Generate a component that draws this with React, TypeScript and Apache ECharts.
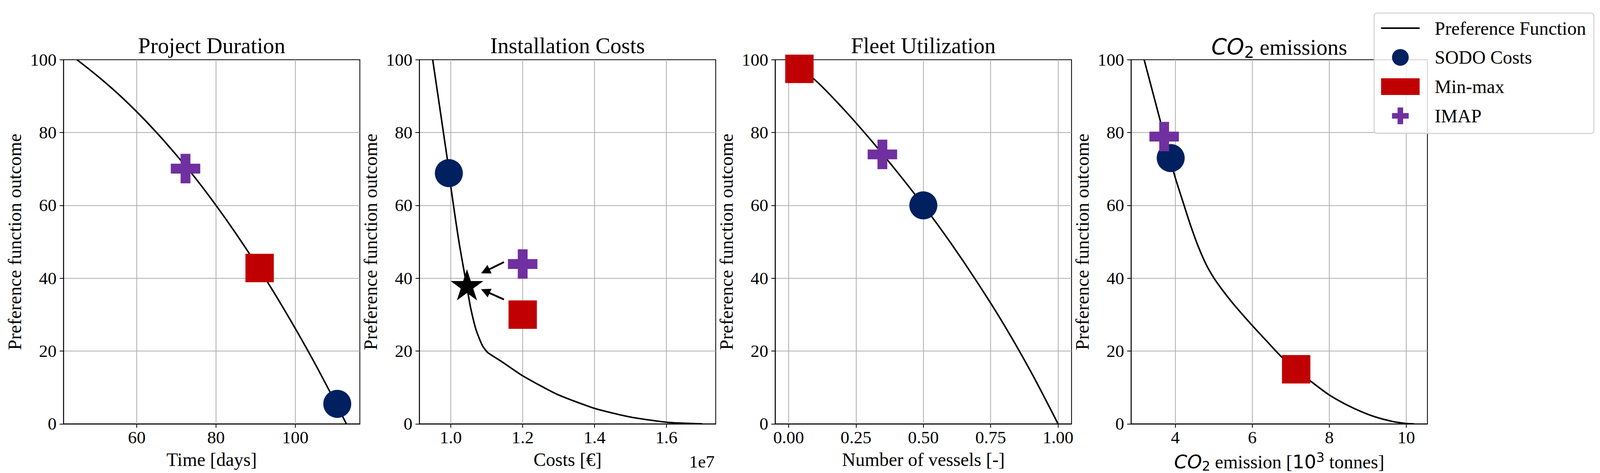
import React, { useEffect, useRef } from 'react';
import * as echarts from 'echarts';

// ---------- data ----------
// Project Duration
const durationCurveX = [44.9, 50, 55, 60, 65, 70, 75, 80, 85, 90, 95, 100, 105, 110, 112.9];
const durationCurveY = [100, 95.6, 90.9, 85.7, 80.0, 73.8, 67.2, 60.0, 52.3, 44.1, 35.4, 26.2, 16.5, 6.2, 0];
// Installation Costs (EUR)
const costCurveX = [0.9496e7, 0.9899e7, 1.0007e7, 1.0143e7, 1.024e7, 1.0356e7, 1.045e7, 1.0549e7, 1.0704e7, 1.0879e7, 1.1026e7, 1.1401e7, 1.2e7, 1.295e7, 1.4e7, 1.5e7, 1.6e7, 1.6995e7];
const costCurveY = [100, 73.0, 64.7, 55.4, 49.2, 42.7, 37.5, 32.0, 25.8, 21.5, 19.6, 17.2, 13.2, 8.15, 4.25, 1.87, 0.45, 0];
// Fleet Utilization
const fleetCurveX = [0, 0.1, 0.2, 0.3, 0.4, 0.5, 0.6, 0.7, 0.8, 0.9, 1.0];
const fleetCurveY = [100, 94.3, 86.75, 78.4, 69.45, 60.0, 49.85, 38.9, 27.15, 14.2, 0];
// CO2 emissions (10^3 tonnes)
const co2CurveX = [3.19, 3.61, 3.96, 4.231, 4.4, 4.6, 4.8, 5.0, 5.2, 5.5, 6.0, 6.36, 6.76, 7.14, 7.503, 8.0, 8.522, 9.064, 9.606, 10.0, 10.2];
const co2CurveY = [100, 83.2, 69.0, 59.9, 54.4, 48.6, 43.8, 40.1, 37.1, 33.05, 27.0, 22.9, 18.4, 15.0, 11.84, 7.94, 4.86, 2.39, 0.75, 0.1, 0];

// Methods, one value per subplot (duration, costs, fleet, co2)
const sodoX = [110.6, 0.9946e7, 0.5, 3.88];
const sodoY = [5.5, 68.85, 60.0, 73.0];
const minmaxX = [91.0, 1.2e7, 0.04, 7.14];
const minmaxY = [42.8, 30.0, 97.5, 15.0];
const imapX = [72.3, 1.2e7, 0.348, 3.71];
const imapY = [70.1, 43.9, 74.0, 78.9];

// Star (installation costs) and annotation arrows [x0, y0, x1, y1]
const starPoint = [1.045e7, 37.8];
const arrows = [
  [1.1479e7, 44.42, 1.096e7, 41.9],
  [1.1479e7, 34.15, 1.096e7, 36.45],
];

// Axes
const titles = ['Project Duration', 'Installation Costs', 'Fleet Utilization', 'CO2 emissions'];
const xNames = ['Time [days]', 'Costs [€]', 'Number of vessels [-]', '{it|CO}{sub|2}{rm| emission [}{dj|10}{sup|3}{rm| tonnes]}'];
const xMin = [41.5, 0.9125e7, -0.05, 2.85];
const xMax = [116.3, 1.737e7, 1.05, 10.55];
const xTicks = [
  [60, 80, 100],
  [1.0e7, 1.2e7, 1.4e7, 1.6e7],
  [0, 0.25, 0.5, 0.75, 1.0],
  [4, 6, 8, 10],
];
const yTicksInterval = 20;
const yLabel = 'Preference function outcome';
const legendNames = ['Preference Function', 'SODO Costs', 'Min-max', 'IMAP'];

// ---------- style (design px on a 4400 x 1210 page, scaled to the real viewport) ----------
const SERIF = '"Liberation Serif", "Times New Roman", Times, serif';
const MATH = '"DejaVu Sans", sans-serif';
const NAVY = '#002060';
const RED = '#C00000';
const PURPLE = '#7030A0';
const GRID_LEFTS = [166, 1144.6, 2123.1, 3101.8];
const GRID_TOP = 144.8;
const GRID_W = 815;
const GRID_H = 931.5;
const TICK_FS = 48.5;
const LABEL_FS = 51.5;
const TITLE_FS = 61;
const PLUS = 'path://M1,0H2V1H3V2H2V3H1V2H0V1H1Z';
const STAR = 'path://M1,0L1.2245,0.691L1.9511,0.691L1.3633,1.118L1.5878,1.809L1,1.382L0.4122,1.809L0.6367,1.118L0.0489,0.691L0.7755,0.691Z';

const fmt = [
  (v: number) => String(Math.round(v)),
  (v: number) => (v / 1e7).toFixed(1),
  (v: number) => v.toFixed(2),
  (v: number) => String(Math.round(v)),
];

function zip(xs: number[], ys: number[]) {
  return xs.map((x, i) => [x, ys[i]]);
}

function buildOption(sx: number, sy: number) {
  const s = Math.min(sx, sy);
  const X = (v: number) => v * sx;
  const Y = (v: number) => v * sy;
  const F = (v: number) => v * s;

  const mathRich = (fs: number, lh: number, subFs: number, subLh: number) => ({
    it: { fontFamily: MATH, fontStyle: 'italic', fontSize: F(fs), lineHeight: F(lh), color: '#000' },
    sub: { fontFamily: MATH, fontSize: F(subFs), lineHeight: F(subLh), verticalAlign: 'bottom', color: '#000' },
    sup: { fontFamily: MATH, fontSize: F(subFs), lineHeight: F(subLh), verticalAlign: 'top', color: '#000' },
    dj: { fontFamily: MATH, fontSize: F(fs), lineHeight: F(lh), color: '#000' },
    rm: { fontFamily: SERIF, fontSize: F(fs), lineHeight: F(lh), color: '#000' },
  });

  const curves = [
    zip(durationCurveX, durationCurveY),
    zip(costCurveX, costCurveY),
    zip(fleetCurveX, fleetCurveY),
    zip(co2CurveX, co2CurveY),
  ];
  const smoothing = [0.3, 0.2, 0.3, 0.3];
  const grid = GRID_LEFTS.map((left) => ({
    left: X(left), top: Y(GRID_TOP), width: X(GRID_W), height: Y(GRID_H),
    show: true, borderColor: '#000', borderWidth: F(2.2), backgroundColor: 'transparent',
    containLabel: false, outerBoundsMode: 'none',
  }));
  const axisLineStyle = { color: '#000', width: F(2.2) };
  const xAxis = GRID_LEFTS.map((_, i) => ({
    type: 'value', gridIndex: i, min: xMin[i], max: xMax[i],
    axisLine: { show: true, onZero: false, lineStyle: axisLineStyle },
    axisTick: { show: true, inside: false, length: F(10.6), lineStyle: axisLineStyle, customValues: xTicks[i] },
    axisLabel: { show: true, customValues: xTicks[i], formatter: fmt[i], margin: F(13), fontSize: F(TICK_FS), fontFamily: SERIF, color: '#000', hideOverlap: false },
    splitLine: { show: true, lineStyle: { color: '#b0b0b0', width: F(2.2) } },
    name: xNames[i], nameLocation: 'middle', nameGap: F(i === 3 ? 74 : 72),
    nameTextStyle: i === 3
      ? { fontSize: F(LABEL_FS), fontFamily: SERIF, color: '#000', rich: mathRich(LABEL_FS, 60, 36, 32) }
      : { fontSize: F(LABEL_FS), fontFamily: SERIF, color: '#000' },
  }));
  const yAxis = GRID_LEFTS.map((_, i) => ({
    type: 'value', gridIndex: i, min: 0, max: 100, interval: yTicksInterval,
    axisLine: { show: true, onZero: false, lineStyle: axisLineStyle },
    axisTick: { show: true, inside: false, length: F(10.6), lineStyle: axisLineStyle },
    axisLabel: { show: true, margin: F(19), fontSize: F(TICK_FS), fontFamily: SERIF, color: '#000' },
    splitLine: { show: true, showMinLine: false, showMaxLine: false, lineStyle: { color: '#b0b0b0', width: F(2.2) } },
    name: yLabel, nameLocation: 'middle', nameGap: F(108),
    nameTextStyle: { fontSize: F(LABEL_FS), fontFamily: SERIF, color: '#000' },
  }));

  const series: any[] = [];
  for (let i = 0; i < 4; i++) {
    series.push({
      type: 'line', name: legendNames[0], xAxisIndex: i, yAxisIndex: i,
      data: curves[i], showSymbol: false, symbol: 'none', smooth: smoothing[i],
      lineStyle: { color: '#000', width: F(4.2) }, itemStyle: { color: '#000' }, z: 2, silent: true,
    });
    series.push({
      type: 'scatter', name: legendNames[1], xAxisIndex: i, yAxisIndex: i,
      data: [[sodoX[i], sodoY[i]]], symbol: 'circle', symbolSize: F(77),
      itemStyle: { color: NAVY, opacity: 1 }, z: 3, silent: true,
    });
    series.push({
      type: 'scatter', name: legendNames[2], xAxisIndex: i, yAxisIndex: i,
      data: [[minmaxX[i], minmaxY[i]]], symbol: 'rect', symbolSize: F(78),
      itemStyle: { color: RED, opacity: 1 }, z: 4, silent: true,
    });
    series.push({
      type: 'scatter', name: legendNames[3], xAxisIndex: i, yAxisIndex: i,
      data: [[imapX[i], imapY[i]]], symbol: PLUS, symbolSize: F(81),
      itemStyle: { color: PURPLE, opacity: 1 }, z: 5, silent: true,
    });
  }
  series.push({
    type: 'scatter', name: 'Selected', xAxisIndex: 1, yAxisIndex: 1,
    data: [starPoint], symbol: STAR, symbolSize: [F(90), F(86)], symbolOffset: [0, -F(4)],
    itemStyle: { color: '#000', opacity: 1 }, z: 6, silent: true,
    markLine: {
      silent: true, animation: false,
      symbol: ['none', 'triangle'], symbolSize: F(26),
      lineStyle: { color: '#000', width: F(5), type: 'solid', opacity: 1 },
      label: { show: false }, emphasis: { disabled: true },
      data: arrows.map((a) => [{ coord: [a[0], a[1]] }, { coord: [a[2], a[3]] }]),
    },
  });

  const graphic: any[] = [];
  for (let i = 0; i < 4; i++) {
    const cx = X(GRID_LEFTS[i] + GRID_W / 2);
    if (i < 3) {
      graphic.push({
        type: 'text', x: cx, y: Y(108.5), silent: true,
        style: {
          text: titles[i], fill: '#000', fontSize: F(TITLE_FS), fontFamily: SERIF,
          align: 'center', verticalAlign: 'middle', textAlign: 'center', textVerticalAlign: 'middle',
        },
      });
    } else {
      graphic.push({
        type: 'text', x: cx, y: Y(112), silent: true,
        style: {
          text: '{it|CO}{sub|2}{rm| emissions}', fill: '#000', fontSize: F(TITLE_FS), fontFamily: SERIF,
          align: 'center', verticalAlign: 'middle', textAlign: 'center', textVerticalAlign: 'middle',
          rich: mathRich(TITLE_FS, 72, 43, 38),
        },
      });
    }
  }
  graphic.push({
    type: 'text', x: X(GRID_LEFTS[1] + GRID_W - 3), y: Y(1173), silent: true,
    style: {
      text: '1e7', fill: '#000', fontSize: F(TICK_FS), fontFamily: SERIF,
      align: 'right', verticalAlign: 'middle', textAlign: 'right', textVerticalAlign: 'middle',
    },
  });

  return {
    animation: false,
    backgroundColor: '#ffffff',
    grid, xAxis, yAxis, series, graphic,
    legend: {
      show: true, orient: 'vertical', left: X(3770.2), top: Y(25.3),
      padding: [F(15.8), F(21.7), F(22.5), F(19.2)],
      itemWidth: F(106), itemHeight: F(46), itemGap: F(28.8),
      backgroundColor: 'rgba(255,255,255,0.8)', borderColor: '#cccccc', borderWidth: F(2.4), borderRadius: F(8),
      textStyle: { fontFamily: SERIF, fontSize: F(LABEL_FS), color: '#000', lineHeight: F(46), padding: [0, 0, 0, F(36)] },
      data: [
        { name: legendNames[0], icon: 'path://M0,0H106V4.2H0Z' },
        { name: legendNames[1] },
        { name: legendNames[2] },
        { name: legendNames[3] },
      ],
      selectedMode: false, z: 10,
    },
    tooltip: { show: false },
  };
}

export default function App() {
  const ref = useRef<HTMLDivElement>(null);
  useEffect(() => {
    const el = ref.current;
    if (!el) return;
    const w = el.clientWidth || 4400;
    const h = el.clientHeight || 1210;
    const chart = echarts.init(el, null, { renderer: 'svg', width: w, height: h });
    chart.setOption(buildOption(w / 4400, h / 1210) as any);
    return () => chart.dispose();
  }, []);
  return (
    <div
      ref={ref}
      style={{ position: 'fixed', left: 0, top: 0, width: '100vw', height: '100vh', background: '#fff' }}
    />
  );
}
